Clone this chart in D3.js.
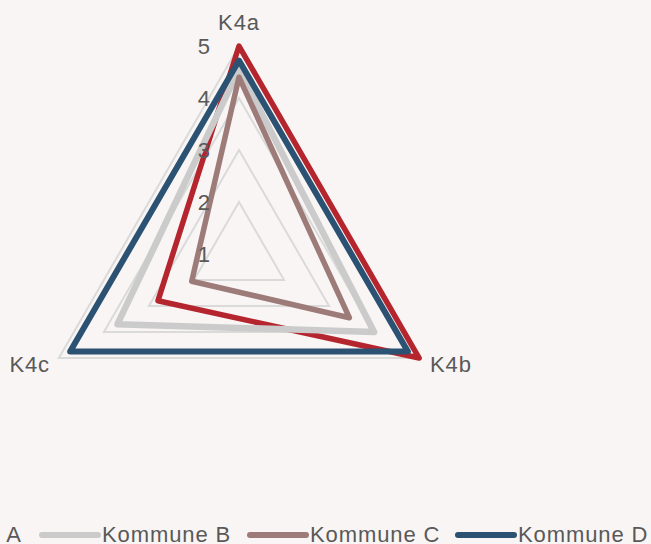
<!DOCTYPE html>
<html>
<head>
    <meta charset="utf-8">
    <script src="https://cdn.jsdelivr.net/npm/d3@7"></script>
    <style>
        body { margin: 0; background: #f8f5f4; }
        svg { display: block; font-family: "Liberation Sans", Arial, sans-serif; }
        text { fill: #595959; font-size: 22px; letter-spacing: 0.9px; }
    </style>
</head>
<body>
<svg width="651" height="544"></svg>
<script>
    // axes of the radar, clockwise from the top
    const axes = ["K4a", "K4b", "K4c"];
    const series = ["Kommune A", "Kommune B", "Kommune C", "Kommune D"];
    const kommuneA = [5.0, 5.0, 2.8];
    const kommuneB = [4.55, 4.0, 3.7];
    const kommuneC = [4.4, 3.45, 2.05];
    const kommuneD = [4.72, 4.75, 4.75];
    const ticks = [1, 2, 3, 4, 5];
    const colors = ["#b5252e", "#cbcbcb", "#9c7b78", "#2b5272"];
    const widths = [5.5, 6.5, 5.5, 6];

    const values = [kommuneA, kommuneB, kommuneC, kommuneD];

    const svg = d3.select("svg");
    const cx = 239, cy = 254;

    const r = d3.scaleLinear().domain([1, 5]).range([0, 208]);
    const angle = d3.scalePoint().domain(axes).range([-90, 150]);

    function pt(axis, v) {
        const a = angle(axis) * Math.PI / 180;
        return [cx + r(v) * Math.cos(a), cy + r(v) * Math.sin(a)];
    }

    const line = d3.line().curve(d3.curveLinearClosed);

    // grid rings
    svg.append("g")
        .selectAll("path")
        .data(ticks.slice(1))
        .enter()
        .append("path")
            .attr("d", t => line(axes.map(a => pt(a, t))))
            .attr("fill", "none")
            .attr("stroke", "#dadada")
            .attr("stroke-width", 2);

    // series
    svg.append("g")
        .selectAll("path")
        .data(values)
        .enter()
        .append("path")
            .attr("d", d => line(axes.map((a, i) => pt(a, d[i]))))
            .attr("fill", "none")
            .attr("stroke", (d, i) => colors[i])
            .attr("stroke-width", (d, i) => widths[i])
            .attr("stroke-linejoin", "round");

    // tick labels along K4a
    svg.append("g")
        .selectAll("text")
        .data(ticks)
        .enter()
        .append("text")
            .attr("x", 211)
            .attr("y", t => pt("K4a", t)[1])
            .attr("dy", "0.36em")
            .attr("text-anchor", "end")
            .text(t => t);

    // axis labels
    const labelPos = {
        K4a: { x: 239, y: 30, anchor: "middle" },
        K4b: { x: 430, y: 372, anchor: "start" },
        K4c: { x: 50, y: 372, anchor: "end" }
    };
    svg.append("g")
        .selectAll("text")
        .data(axes)
        .enter()
        .append("text")
            .attr("x", a => labelPos[a].x)
            .attr("y", a => labelPos[a].y)
            .attr("text-anchor", a => labelPos[a].anchor)
            .text(a => a);

    // legend (runs off the left edge like the original)
    const legend = svg.append("g")
        .selectAll("g")
        .data(series)
        .enter()
        .append("g")
            .attr("transform", (d, i) => "translate(" + (-166 + i * 208) + ",535)");

    legend.append("line")
        .attr("x1", 0).attr("x2", 56)
        .attr("stroke", (d, i) => colors[i])
        .attr("stroke-width", 6)
        .attr("stroke-linecap", "round");

    legend.append("text")
        .attr("x", 60)
        .attr("y", 7)
        .text(d => d);
</script>
</body>
</html>
